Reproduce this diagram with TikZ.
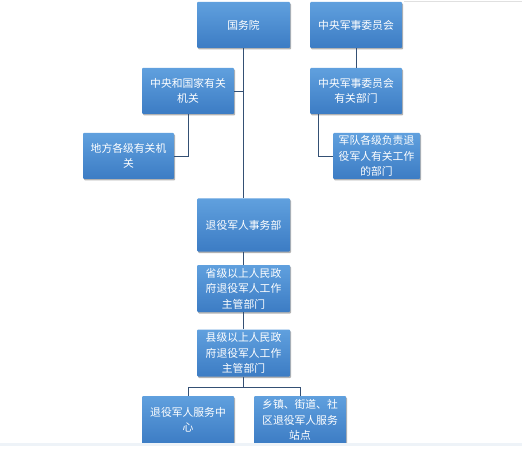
\documentclass[tikz,border=0pt]{standalone}
\usepackage{fontspec}
\newfontfamily\cjk{Noto Sans CJK SC}
\usetikzlibrary{shadows}
\definecolor{boxtop}{RGB}{96,160,222}
\definecolor{boxbot}{RGB}{60,124,196}
\definecolor{linec}{RGB}{52,80,116}
\definecolor{strip}{RGB}{238,243,248}
\begin{document}
\begin{tikzpicture}[x=1pt,y=-1pt,
  box/.style={rectangle, rounded corners=1pt, top color=boxtop, bottom color=boxbot, draw=none,
    text=white, align=center, inner sep=2pt, minimum width=92pt, minimum height=46pt,
    font=\cjk\fontsize{10.8}{15.5}\selectfont,
    drop shadow={shadow xshift=1pt, shadow yshift=-1.5pt, opacity=0.3, fill=black}},
  conn/.style={draw=linec, line width=0.8pt}]
\useasboundingbox (0,0) rectangle (522,457);
\begin{scope}
\clip (0,0) rectangle (522,442);
\node[box, minimum width=93pt] (gwy) at (243.5,25) {国务院};
\node[box] (zyjw) at (356,25) {中央军事委员会};
\node[box] (zyjwbm) at (356,91) {中央军事委员会\\有关部门};
\node[box] (zygj) at (188,91) {中央和国家有关\\机关};
\node[box, minimum width=91pt] (dfgj) at (128.5,156) {地方各级有关机\\关};
\node[box, minimum width=87pt] (jdbm) at (376.5,156) {军队各级负责退\\役军人有关工作\\的部门};
\node[box, minimum width=93pt, minimum height=53pt] (tyjr) at (243.5,225) {退役军人事务部};
\node[box, minimum width=93pt, minimum height=47pt] (sj) at (243.5,288.5) {省级以上人民政\\府退役军人工作\\主管部门};
\node[box, minimum width=93pt, minimum height=47pt] (xj) at (243.5,353) {县级以上人民政\\府退役军人工作\\主管部门};
\node[box, minimum height=48pt] (fwzx) at (188,420) {退役军人服务中\\心};
\node[box, minimum height=48pt] (zd) at (300,420) {乡镇、街道、社\\区退役军人服务\\站点};

\coordinate (j1) at (gwy.south |- zygj.east);
\draw[conn] (gwy.south) -- (tyjr.north);
\draw[conn] (zygj.east) -- (j1);
\draw[conn] (zygj.south) |- (dfgj.east);
\draw[conn] (zyjw.south) -- (zyjwbm.north);
\coordinate (b1) at ([xshift=9pt]zyjwbm.south west);
\draw[conn] (b1) |- (jdbm.west);
\draw[conn] (tyjr.south) -- (sj.north);
\draw[conn] (sj.south) -- (xj.north);
\coordinate (j2) at ([yshift=-11pt]xj.south);
\draw[conn] (xj.south) -- (j2) -| (fwzx.north);
\draw[conn] (j2) -| (zd.north);
\end{scope}
\fill[strip] (0,442.5) rectangle (522,446);
\draw[black!12, line width=0.6pt] (404,1.5) -- (522,1.5);
\end{tikzpicture}
\end{document}
